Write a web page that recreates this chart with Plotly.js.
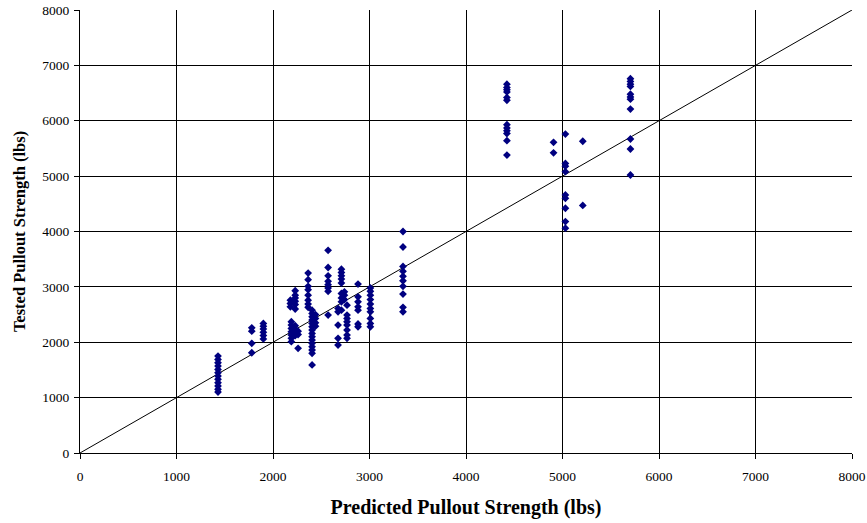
<!DOCTYPE html>
<html>
<head>
<meta charset="utf-8">
<script src="https://cdn.plot.ly/plotly-3.0.1.min.js"></script>
<style>html,body{margin:0;padding:0;background:#fff;}#chart{width:867px;height:523px;}</style>
</head>
<body>
<div id="chart"></div>
<script>
// Predicted pullout strength (lbs) per test group, and the tested values for each group
const predicted = [1430, 1780, 1900, 2180, 2230, 2190, 2260, 2364, 2405, 2440, 2571, 2674, 2709, 2740, 2767, 2881, 3009, 3347, 4424, 4907, 5030, 5210, 5704];
const tested = [
  [1750, 1690, 1630, 1570, 1510, 1450, 1390, 1330, 1270, 1210, 1150, 1100],
  [2260, 2200, 1980, 1810],
  [2340, 2290, 2240, 2180, 2120, 2060],
  [2760, 2700, 2640],
  [2930, 2850, 2800, 2740, 2680, 2600, 2300, 2240, 2180, 2120],
  [2370, 2310, 2250, 2190, 2130, 2070, 2010],
  [2200, 2140, 1890],
  [3250, 3130, 3010, 2950, 2850, 2760, 2690, 2630],
  [2580, 2520, 2460, 2400, 2340, 2280, 2220, 2160, 2100, 2040, 1980, 1920, 1860, 1800, 1590],
  [2500, 2430, 2350, 2290],
  [3660, 3350, 3200, 3100, 3040, 2980, 2920, 2490],
  [2610, 2550, 2310, 2070, 1950],
  [3320, 3260, 3200, 3140, 3070, 2880, 2800, 2730, 2580],
  [2910, 2850, 2770],
  [2670, 2490, 2430, 2370, 2310, 2220, 2130, 2070],
  [3050, 2820, 2730, 2640, 2580, 2330, 2280],
  [2980, 2920, 2850, 2770, 2690, 2610, 2550, 2430, 2340, 2280],
  [4000, 3720, 3370, 3280, 3190, 3110, 3010, 2870, 2630, 2550],
  [6660, 6600, 6560, 6520, 6420, 6370, 5930, 5870, 5820, 5770, 5640, 5380],
  [5610, 5420],
  [5760, 5230, 5180, 5080, 4660, 4600, 4420, 4180, 4060],
  [5630, 4470],
  [6760, 6710, 6660, 6620, 6480, 6430, 6390, 6210, 5670, 5490, 5020]
];
// Line of equality
const equalityX = [0, 8000];
const equalityY = [0, 8000];
const tickVals = [0, 1000, 2000, 3000, 4000, 5000, 6000, 7000, 8000];
const tickText = ["0", "1000", "2000", "3000", "4000", "5000", "6000", "7000", "8000"];

const px = [], py = [];
predicted.forEach((p, i) => tested[i].forEach(t => { px.push(p); py.push(t); }));

const data = [
  {x: equalityX, y: equalityY, mode: 'lines', line: {color: '#000', width: 1}, hoverinfo: 'skip', showlegend: false},
  {x: px, y: py, mode: 'markers', marker: {symbol: 'diamond', size: 6, color: '#000080'}, showlegend: false}
];

const serif = 'Liberation Serif, Times New Roman, serif';
const axisCommon = {
  range: [0, 8000], tickvals: tickVals, ticktext: tickText,
  showgrid: true, gridcolor: '#000', gridwidth: 1,
  zeroline: false, showline: true, linecolor: '#000', linewidth: 1, mirror: false,
  ticks: 'outside', ticklen: 5, tickcolor: '#000',
  tickfont: {family: serif, size: 13.5, color: '#000'}
};

const layout = {
  width: 867, height: 523,
  margin: {l: 80, r: 15, t: 10, b: 70},
  paper_bgcolor: '#fff', plot_bgcolor: '#fff',
  xaxis: Object.assign({}, axisCommon, {
    ticklabelstandoff: 6,
    title: {text: '<b>Predicted Pullout Strength (lbs)</b>', font: {family: serif, size: 20, color: '#000'}, standoff: 16}
  }),
  yaxis: Object.assign({}, axisCommon, {
    ticklabelstandoff: 2,
    title: {text: '<b>Tested Pullout Strength (lbs)</b>', font: {family: serif, size: 16.5, color: '#000'}, standoff: 12}
  })
};

Plotly.newPlot('chart', data, layout, {displayModeBar: false, staticPlot: true});
</script>
</body>
</html>
